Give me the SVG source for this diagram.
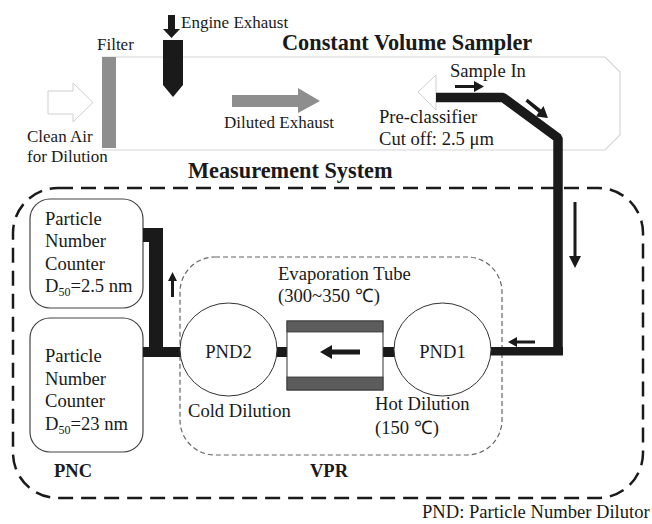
<svg xmlns="http://www.w3.org/2000/svg" width="652" height="524" viewBox="0 0 652 524">
<style>
text{font-family:'Liberation Serif','Times New Roman',Times,serif;fill:#1a1a1a}
.t17{font-size:17px}
.t18{font-size:18.6px}
.b22{font-size:22.3px;font-weight:bold}
.b18{font-size:18.5px;font-weight:bold}
.sub{font-size:12px}
.tube{fill:#1a1a1a}
.pnc{fill:#fff;stroke:#444;stroke-width:1.2}
.pnd{fill:#fff;stroke:#333;stroke-width:1}
.hollow{fill:#fff;stroke:#cfcfcf;stroke-width:1}
</style>
<rect width="652" height="524" fill="#fff"/>

<g id="cvs">
<path d="M102,57 L605,57 L620,72 L620,135 L605,150 L102,150" fill="none" stroke="#d6d6d6" stroke-width="1.2"/>
<text class="b22" x="282" y="50">Constant Volume Sampler</text>
</g>

<g id="clean-air">
<polygon class="hollow" points="48,91 73,91 73,83 93,102.5 73,122 73,114 48,114"/>
<text class="t17" x="27" y="142">Clean Air</text>
<text class="t17" x="27" y="162">for Dilution</text>
</g>

<g id="filter">
<rect x="102" y="57" width="14" height="91" fill="#8e8e8e"/>
<text class="t17" x="97" y="50">Filter</text>
</g>

<g id="engine-exhaust">
<polygon points="168,15 175,15 175,29 180,29 171.5,38 163,29 168,29" fill="#1a1a1a"/>
<polygon points="163,40 183,40 183,85 173,97 163,85" fill="#1a1a1a"/>
<text class="t17" x="181" y="28">Engine Exhaust</text>
</g>

<g id="diluted-exhaust">
<polygon points="232,95 298,95 298,88 320,101 298,113 298,107 232,107" fill="#8e8e8e"/>
<text class="t17" x="224" y="128">Diluted Exhaust</text>
</g>

<g id="preclassifier">
<polygon class="hollow" points="418,92 436,75 436,110"/>
<text class="t18" x="379" y="123">Pre-classifier</text>
<text class="t18" x="379" y="145">Cut off: 2.5 μm</text>
<text class="t18" x="450" y="77">Sample In</text>
</g>

<g id="measurement-system">
<rect x="13" y="188" width="630" height="310" rx="45" ry="45" fill="none" stroke="#1a1a1a" stroke-width="2.5" stroke-dasharray="15 8"/>
<text class="b22" x="188" y="178">Measurement System</text>
</g>

<g id="vpr">
<rect x="180" y="257" width="322" height="198" rx="35" ry="35" fill="none" stroke="#666" stroke-width="1.2" stroke-dasharray="5 3"/>
<text class="b18" x="310" y="477">VPR</text>
</g>

<g id="pnc-upper">
<rect class="pnc" x="30" y="199" width="113" height="109" rx="20" ry="20"/>
<text class="t18" x="45" y="225">Particle</text>
<text class="t18" x="45" y="247">Number</text>
<text class="t18" x="45" y="270">Counter</text>
<text class="t18" x="45" y="292">D<tspan class="sub" dy="4">50</tspan><tspan dy="-4">=2.5 nm</tspan></text>
</g>

<g id="pnc-lower">
<rect class="pnc" x="30" y="318" width="113" height="134" rx="20" ry="20"/>
<text class="t18" x="45" y="362">Particle</text>
<text class="t18" x="45" y="385">Number</text>
<text class="t18" x="45" y="407">Counter</text>
<text class="t18" x="45" y="430">D<tspan class="sub" dy="4">50</tspan><tspan dy="-4">=23 nm</tspan></text>
<text class="b18" x="54" y="477">PNC</text>
</g>

<g id="connectors">
<polyline points="436,97.5 503,97.5 558,138 558,355" fill="none" stroke="#1a1a1a" stroke-width="9.5" stroke-linejoin="bevel"/>
<rect class="tube" x="486" y="347" width="77" height="8.5"/>
<rect class="tube" x="143" y="228" width="20" height="14"/>
<rect class="tube" x="149" y="228" width="14" height="129"/>
<rect class="tube" x="143" y="347" width="40" height="10"/>
<rect class="tube" x="274" y="347" width="16" height="10"/>
<rect class="tube" x="380" y="347" width="17" height="10"/>
<polygon points="455,85 474,85 474,81 484,86.5 474,92 474,88 455,88" fill="#1a1a1a"/>
<polygon points="525.5,101.5 527.5,98.8 541,109.5 543.5,106 548,118 536,116.5 538.5,112.5" fill="#1a1a1a"/>
<polygon points="573.5,202 576.5,202 576.5,256 581,256 575,268 569,256 573.5,256" fill="#1a1a1a"/>
<polygon points="535,340.5 517,340.5 517,337 508,342 517,347 517,343.5 535,343.5" fill="#1a1a1a"/>
<polygon points="171,297 174,297 174,281 177,281 172.5,272 168,281 171,281" fill="#1a1a1a"/>
</g>

<g id="evaporation-tube">
<rect x="287" y="321" width="96" height="69" fill="#fff" stroke="#333" stroke-width="1"/>
<rect x="287" y="321" width="96" height="11" fill="#5c5c5c" stroke="#333" stroke-width="0.8"/>
<rect x="287" y="377" width="96" height="13" fill="#5c5c5c" stroke="#333" stroke-width="0.8"/>
<polygon points="360,349.5 332,349.5 332,345 320,352 332,359 332,354.5 360,354.5" fill="#1a1a1a"/>
<text class="t18" x="278" y="280">Evaporation Tube</text>
<text class="t18" x="278" y="302">(300~350 ℃)</text>
</g>

<g id="pnd2">
<ellipse class="pnd" cx="228.5" cy="349.5" rx="48.5" ry="46.5"/>
<text class="t18" x="228.5" y="358" text-anchor="middle">PND2</text>
<text class="t18" x="188" y="417">Cold Dilution</text>
</g>

<g id="pnd1">
<ellipse class="pnd" cx="442.5" cy="349.5" rx="48.5" ry="46.5"/>
<text class="t18" x="442.5" y="358" text-anchor="middle">PND1</text>
<text class="t18" x="375" y="410">Hot Dilution</text>
<text class="t18" x="375" y="434">(150 ℃)</text>
</g>

<g id="legend">
<text class="t18" x="422" y="518">PND: Particle Number Dilutor</text>
</g>
</svg>
